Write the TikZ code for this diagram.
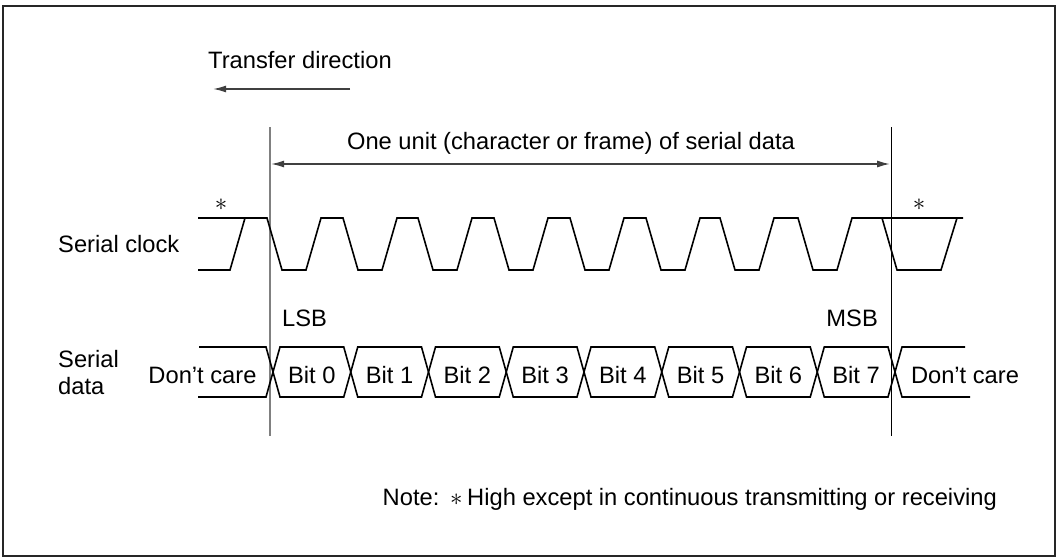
\documentclass[tikz,border=0pt]{standalone}
\usepackage{fontspec}
\setmainfont{Liberation Sans}
\usetikzlibrary{arrows.meta}
\begin{document}
\begin{tikzpicture}[x=1pt,y=-1pt,
  txt/.style={font=\fontsize{23.7pt}{28pt}\selectfont, inner sep=0pt},
  sig/.style={line width=1.6pt, black, line join=miter},
  guide/.style={line width=1.8pt, gray},
  guideR/.style={line width=1pt, black},
  dimarrow/.style={line width=1.5pt, black!75, -{Latex[length=13pt,width=7pt]}},
  dimarrows/.style={line width=1.5pt, black!75, {Latex[length=13pt,width=7pt]}-{Latex[length=13pt,width=7pt]}}]
\useasboundingbox (0,0) rectangle (1059,559);
% frame
\draw[line width=2pt, black!85] (3,6) rectangle (1055,556);

% transfer direction
\node[txt, anchor=west] (td) at (208,60) {Transfer direction};
\coordinate (tdA) at (350,89);
\coordinate (tdB) at (213,89);
\draw[dimarrow] (tdA) -- (tdB);

% vertical guides
\coordinate (vLt) at (270,127);
\coordinate (vLb) at (270,436);
\coordinate (vRt) at (891,127);
\coordinate (vRb) at (891,436);
\draw[guide] (vLt) -- (vLb);
\draw[guideR] (vRt) -- (vRb);

% one unit arrow
\coordinate (uA) at (271,164);
\coordinate (uB) at (890,164);
\draw[dimarrows] (uA) -- (uB);
\node[txt] (unit) at (571,143) {One unit (character or frame) of serial data};

% labels
\node[txt, anchor=west] (sclk) at (58,244) {Serial clock};
\node[txt, anchor=west, align=left] (sdat) at (58,373) {Serial\\[-1pt]data};
\node[txt, anchor=west] (lsb) at (282,318) {LSB};
\node[txt, anchor=east] (msb) at (878,318) {MSB};
\node[inner sep=0pt, font=\fontsize{23.7pt}{28pt}\selectfont] (ast1) at (221,205) {$\ast$};
\node[inner sep=0pt, font=\fontsize{23.7pt}{28pt}\selectfont] (ast2) at (919,205) {$\ast$};

% serial clock
\draw[sig] (198,218) -- (267,218) -- (282,270) -- (306,270) -- (321,218)
  -- (343,218) -- (358,270) -- (382,270) -- (397,218)
  -- (418,218) -- (433,270) -- (457,270) -- (472,218)
  -- (494,218) -- (509,270) -- (533,270) -- (548,218)
  -- (570,218) -- (585,270) -- (609,270) -- (624,218)
  -- (646,218) -- (661,270) -- (685,270) -- (700,218)
  -- (720,218) -- (735,270) -- (759,270) -- (774,218)
  -- (798,218) -- (813,270) -- (837,270) -- (852,218)
  -- (963,218);
\draw[sig] (198,270) -- (230,270) -- (245,218);
\draw[sig] (882,218) -- (897,270) -- (941,270) -- (957,218);

% serial data
\def\h{7}
\draw[sig] (199,347) -- (273-\h,347) -- (273,372) -- (273-\h,397) -- (198,397);
\foreach \k/\lab in {0/Bit 0,1/Bit 1,2/Bit 2,3/Bit 3,4/Bit 4,5/Bit 5,6/Bit 6,7/Bit 7}{
  \pgfmathsetmacro{\ca}{273+77.75*\k}
  \pgfmathsetmacro{\cb}{273+77.75*(\k+1)}
  \pgfmathsetmacro{\cm}{(\ca+\cb)/2}
  \draw[sig] (\ca,372) -- (\ca+\h,347) -- (\cb-\h,347) -- (\cb,372) -- (\cb-\h,397) -- (\ca+\h,397) -- cycle;
  \node[txt] (bit\k) at (\cm,375) {\lab};
}
\draw[sig] (965,347) -- (895+\h,347) -- (895,372) -- (895+\h,397) -- (970,397);
\node[txt] (dcL) at (202.5,375) {Don’t care};
\node[txt] (dcR) at (965,375) {Don’t care};

% note
\node[txt, anchor=east] (note) at (997,499) {Note:\hspace{0.45em}$\ast$\hspace{0.2em}High except in continuous transmitting or receiving};
\end{tikzpicture}
\end{document}
